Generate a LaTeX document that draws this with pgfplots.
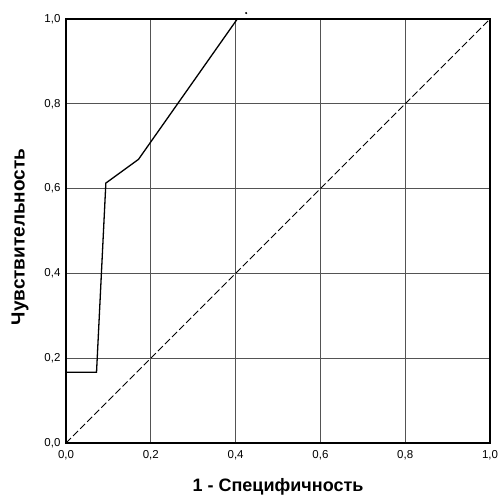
\documentclass[border=0pt]{standalone}
\usepackage{fontspec}
\setmainfont{Liberation Sans}
\usepackage{pgfplots}
\pgfplotsset{compat=1.18}

\begin{document}
\begin{tikzpicture}
\begin{axis}[
    width=424pt, height=424pt,
    scale only axis,
    xmin=0, xmax=1, ymin=0, ymax=1,
    xtick={0,0.2,...,1}, ytick={0,0.2,...,1},
    major tick length=0pt,
    grid=major,
    grid style={gray!65!black, line width=0.9pt},
    axis line style={black, line width=2pt},
    tick label style={font=\fontsize{11.5}{13}\selectfont},
    /pgf/number format/assume math mode=true,
    /pgf/number format/.cd, use comma, fixed, fixed zerofill, precision=1,
    /pgfplots/.cd,
    xticklabel style={anchor=north, yshift=-4pt},
    yticklabel style={anchor=east, xshift=-2pt},
    xlabel={\textbf{1 - Специфичность}},
    ylabel={\textbf{Чувствительность}},
    xlabel style={font=\fontsize{18}{20}\selectfont, at={(axis description cs:0.5,-0.1038)}, anchor=center},
    ylabel style={font=\fontsize{19}{21}\selectfont, at={(axis description cs:-0.1085,0.486)}, anchor=center, rotate=0},
    clip=false,
]
% ROC curve
\addplot[black, line width=1.3pt] coordinates {
    (0,0.167) (0.072,0.167) (0.094,0.613) (0.171,0.669) (0.404,1.0)
};
% reference diagonal
\addplot[black, line width=1pt, dash pattern=on 7pt off 3pt] coordinates {(0,0) (1,1)};
% stray point above the frame
\addplot[only marks, mark=*, mark size=0.8pt, black] coordinates {(0.425,1.014)};
\end{axis}
\pgfresetboundingbox
\path (current axis.south west) ++(-66pt,-56pt) coordinate (bbA);
\path (current axis.north east) ++(7pt,19pt) coordinate (bbB);
\path[use as bounding box] (bbA) rectangle (bbB);
\end{tikzpicture}
\end{document}
